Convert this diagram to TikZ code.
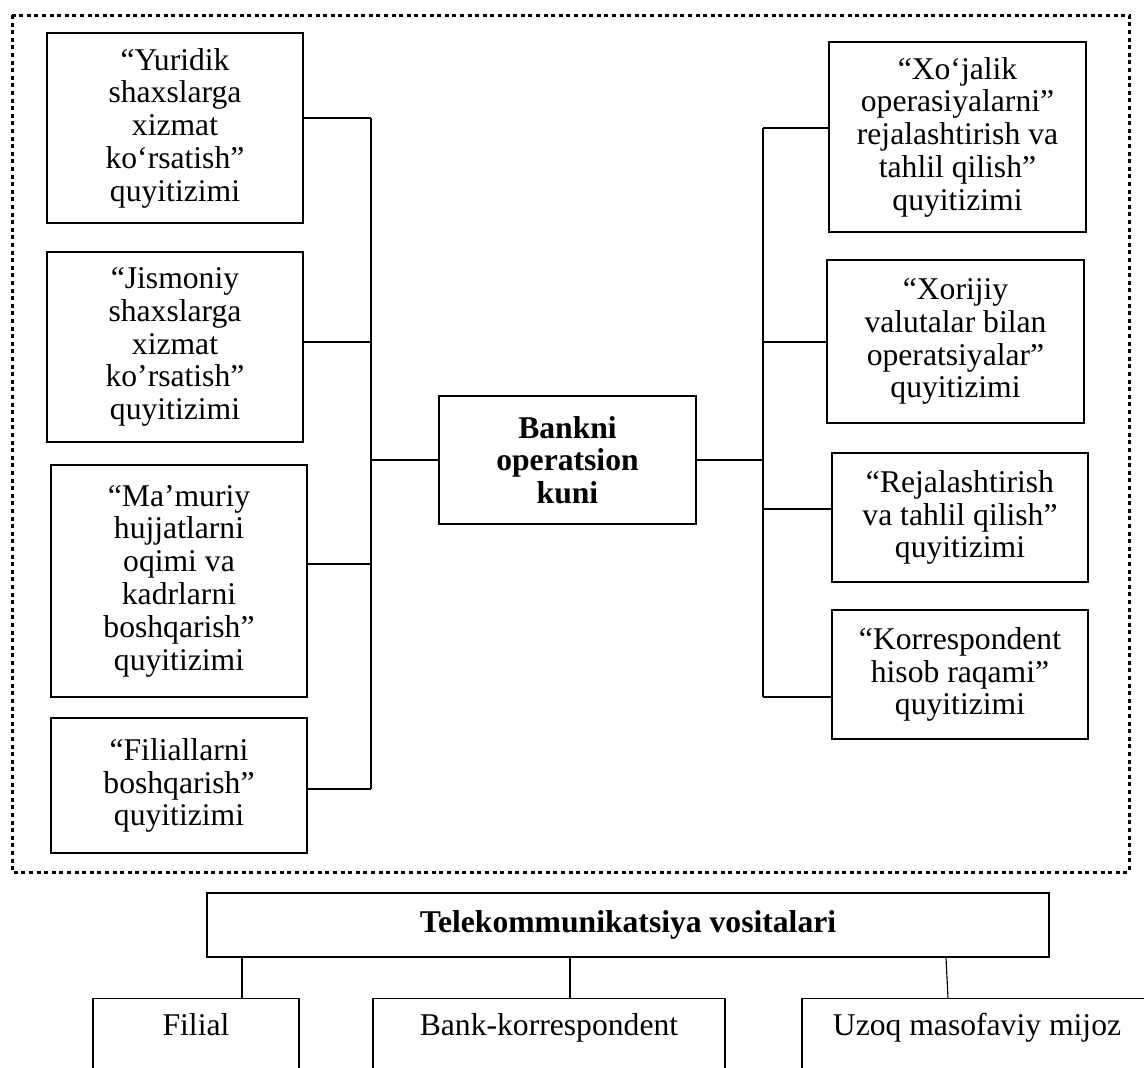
\documentclass[tikz,border=0pt]{standalone}
\usepackage{fontspec}
\setmainfont{Liberation Serif}
\newlength{\boxu}
\setlength{\boxu}{0.025cm}

\begin{document}
\begin{tikzpicture}[x=0.025cm, y=-0.025cm,
        every node/.style={font=\fontsize{22.5}{23.3}\selectfont},
        box/.style={draw, line width=1pt, align=center, inner sep=0pt, minimum width=256\boxu},
        headbox/.style={box, font=\fontsize{22.5}{23.3}\selectfont\bfseries},
        bottombox/.style={draw, line width=1pt, anchor=north, inner sep=0pt, text height=37\boxu, text depth=120\boxu},
        conn/.style={line width=0.8pt},
        frame/.style={line width=3\boxu, dash pattern=on 4\boxu off 3.6\boxu}]
        \path[use as bounding box] (0,0) rectangle (1144,1067);
        \clip (0,0) rectangle (1144,1067);

        \draw[frame] (12,15) rectangle (1129,872);

        % left column
        \node[box, minimum height=190\boxu] (yuridik) at (175,128)
            {“Yuridik\\shaxslarga\\xizmat\\ko‘rsatish”\\quyitizimi};
        \node[box, minimum height=190\boxu] (jismoniy) at (175,347)
            {“Jismoniy\\shaxslarga\\xizmat\\ko’rsatish”\\quyitizimi};
        \node[box, minimum height=232\boxu] (mamuriy) at (179,581)
            {“Ma’muriy\\hujjatlarni\\oqimi va\\kadrlarni\\boshqarish”\\quyitizimi};
        \node[box, minimum height=135\boxu] (filiallar) at (179,785.5)
            {“Filiallarni\\boshqarish”\\quyitizimi};

        \node[headbox, minimum width=257\boxu, minimum height=128\boxu] (bankkun) at (567.5,460)
            {Bankni\\operatsion\\kuni};

        % right column
        \node[box, minimum width=257\boxu, minimum height=190\boxu] (xojalik) at (957.5,137)
            {“Xo‘jalik\\operasiyalarni”\\rejalashtirish va\\tahlil qilish”\\quyitizimi};
        \node[box, minimum width=257\boxu, minimum height=163\boxu] (xorijiy) at (955.5,341.5)
            {“Xorijiy\\valutalar bilan\\operatsiyalar”\\quyitizimi};
        \node[box, minimum height=129\boxu] (rejalash) at (960,517.5)
            {“Rejalashtirish\\va tahlil qilish”\\quyitizimi};
        \node[box, minimum height=129\boxu] (korresp) at (960,674.5)
            {“Korrespondent\\hisob raqami”\\quyitizimi};

        \coordinate (lbus1) at (371,118);
        \coordinate (lbus2) at (371,342);
        \coordinate (lbus3) at (371,564);
        \coordinate (lbus4) at (371,789);
        \coordinate (rbus1) at (763,128);
        \coordinate (rbus2) at (763,342);
        \coordinate (rbus3) at (763,509);
        \coordinate (rbus4) at (763,697);

        \draw[conn] (lbus1) -- (lbus4);
        \draw[conn] (rbus1) -- (rbus4);
        \draw[conn] (yuridik.east |- lbus1) -- (lbus1);
        \draw[conn] (jismoniy.east |- lbus2) -- (lbus2);
        \draw[conn] (mamuriy.east |- lbus3) -- (lbus3);
        \draw[conn] (filiallar.east |- lbus4) -- (lbus4);
        \draw[conn] (bankkun.west) -- (bankkun.west -| lbus1);
        \draw[conn] (bankkun.east) -- (bankkun.east -| rbus1);
        \draw[conn] (xojalik.west |- rbus1) -- (rbus1);
        \draw[conn] (xorijiy.west |- rbus2) -- (rbus2);
        \draw[conn] (rejalash.west |- rbus3) -- (rbus3);
        \draw[conn] (korresp.west |- rbus4) -- (rbus4);

        % telecom part
        \node[headbox, minimum width=842\boxu, minimum height=64\boxu] (telekom) at (628,925)
            {Telekommunikatsiya vositalari};
        \node[bottombox, minimum width=206\boxu] (filial) at (196,998) {Filial};
        \node[bottombox, minimum width=352\boxu] (bankkor) at (549,998) {Bank-korrespondent};
        \node[bottombox, minimum width=350\boxu] (uzoq) at (977,998) {Uzoq masofaviy mijoz};

        \coordinate (drop1) at (242,0);
        \coordinate (drop2) at (570,0);
        \coordinate (drop3a) at (946,0);
        \coordinate (drop3b) at (948,0);
        \draw[conn] (telekom.south -| drop1) -- (filial.north -| drop1);
        \draw[conn] (telekom.south -| drop2) -- (bankkor.north -| drop2);
        \draw[conn] (telekom.south -| drop3a) -- (uzoq.north -| drop3b);
\end{tikzpicture}
\end{document}
